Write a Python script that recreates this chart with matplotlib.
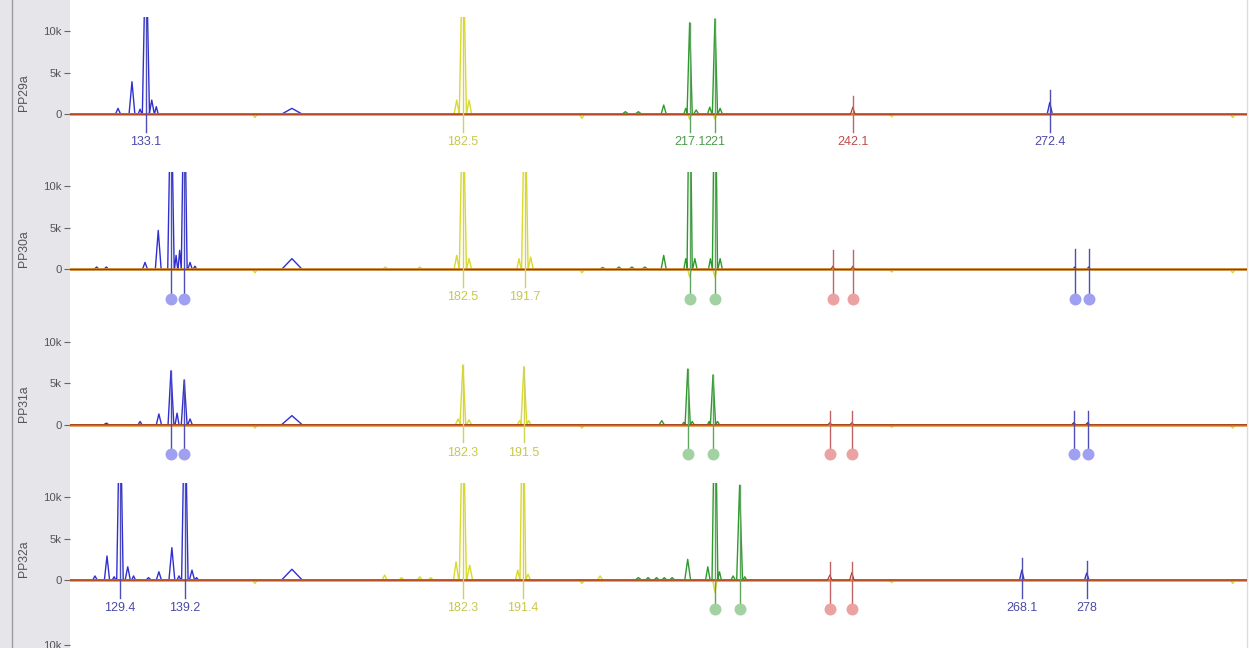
import matplotlib.pyplot as plt
from matplotlib.patches import Rectangle
from matplotlib.lines import Line2D

# ---------------------------------------
# axis ranges (size in bp, signal in RFU)
# ---------------------------------------
X_MIN, X_MAX = 121.4, 302.8
Y_LO, Y_HI = -6988, 11687
Y_TICKS = [0, 5000, 10000]
Y_TICK_LABELS = ['0', '5k', '10k']

samples = ['PP29a', 'PP30a', 'PP31a', 'PP32a']

# peaks per dye: (size bp, height RFU, half width bp)
blue_peaks = [
    [(128.8, 700, 0.4), (130.95, 3900, 0.45), (132.2, 600, 0.3), (133.1, 14000, 0.55),
     (134.0, 1700, 0.4), (134.7, 900, 0.3), (155.6, 700, 1.6), (272.4, 1400, 0.4)],
    [(125.5, 300, 0.4), (127.0, 300, 0.4), (132.96, 850, 0.4), (135.0, 4700, 0.45),
     (136.96, 14000, 0.5), (137.75, 1700, 0.25), (138.3, 2300, 0.25), (139.0, 14000, 0.45),
     (139.9, 850, 0.35), (140.66, 400, 0.3), (155.6, 1300, 1.6), (276.25, 300, 0.3),
     (278.4, 300, 0.3)],
    [(127.0, 200, 0.4), (132.2, 400, 0.3), (135.1, 1300, 0.4), (136.96, 6500, 0.45),
     (137.9, 1400, 0.3), (139.0, 5400, 0.45), (139.9, 700, 0.35), (155.6, 1100, 1.6),
     (276.1, 250, 0.3), (278.25, 250, 0.3)],
    [(125.25, 500, 0.35), (127.1, 2900, 0.4), (128.2, 400, 0.3), (129.1, 14000, 0.5),
     (130.3, 1600, 0.4), (131.2, 500, 0.3), (133.5, 300, 0.4), (135.1, 1000, 0.4),
     (137.1, 3900, 0.45), (138.2, 500, 0.3), (139.1, 14000, 0.5), (140.2, 1200, 0.4),
     (140.9, 300, 0.3), (155.6, 1300, 1.6), (268.1, 1200, 0.35), (278.1, 850, 0.35)],
]

yellow_peaks = [
    [(149.9, -400, 0.4), (181.0, 1700, 0.4), (181.95, 14000, 0.55), (182.9, 1700, 0.4),
     (200.3, -500, 0.4), (216.9, -600, 0.3), (220.8, -600, 0.3), (248.05, -300, 0.4),
     (300.6, -400, 0.4)],
    [(149.9, -400, 0.4), (170.0, 300, 0.5), (175.3, 300, 0.5), (181.0, 1700, 0.4),
     (181.95, 14000, 0.55), (182.9, 1300, 0.4), (190.6, 1300, 0.35), (191.5, 14000, 0.5),
     (192.4, 1500, 0.4), (200.3, -400, 0.4), (216.9, -900, 0.3), (220.8, -900, 0.3),
     (248.05, -300, 0.4), (300.6, -400, 0.4)],
    [(149.9, -400, 0.4), (181.2, 700, 0.4), (181.95, 7200, 0.45), (182.9, 600, 0.4),
     (190.7, 500, 0.35), (191.35, 7000, 0.45), (192.1, 500, 0.35), (200.3, -400, 0.4),
     (248.05, -300, 0.4), (300.6, -400, 0.4)],
    [(149.9, -400, 0.4), (169.9, 600, 0.4), (172.5, 300, 0.4), (175.3, 400, 0.4),
     (177.0, 300, 0.4), (180.9, 2200, 0.4), (181.95, 14000, 0.55), (183.0, 1800, 0.45),
     (190.4, 1200, 0.35), (191.2, 14000, 0.45), (192.0, 700, 0.35), (200.3, -400, 0.4),
     (203.1, 500, 0.4), (220.8, -1500, 0.35), (248.05, -300, 0.4), (300.6, -400, 0.4)],
]

green_peaks = [
    [(207.0, 300, 0.5), (209.0, 300, 0.5), (212.9, 1100, 0.4), (216.3, 700, 0.3),
     (216.9, 11000, 0.4), (217.9, 500, 0.4), (220.0, 850, 0.35), (220.8, 11450, 0.4),
     (221.6, 700, 0.35)],
    [(203.5, 250, 0.5), (206.0, 300, 0.5), (208.0, 300, 0.5), (210.0, 300, 0.5),
     (212.9, 1700, 0.4), (216.3, 1300, 0.3), (216.9, 14000, 0.4), (217.7, 1300, 0.35),
     (220.1, 1300, 0.3), (220.8, 14000, 0.4), (221.6, 1300, 0.35)],
    [(212.6, 500, 0.4), (216.0, 300, 0.25), (216.6, 6700, 0.4), (217.3, 400, 0.3),
     (219.9, 400, 0.25), (220.5, 6000, 0.4), (221.2, 400, 0.3)],
    [(209.0, 300, 0.5), (210.5, 300, 0.4), (211.8, 300, 0.4), (213.0, 300, 0.4),
     (214.2, 300, 0.4), (216.6, 2500, 0.45), (219.7, 1600, 0.35), (220.8, 14000, 0.45),
     (221.5, 1000, 0.3), (223.6, 500, 0.35), (224.6, 11400, 0.45), (225.4, 400, 0.3)],
]

red_peaks = [
    [(242.05, 850, 0.35)],
    [(238.96, 400, 0.3), (242.05, 400, 0.3)],
    [(238.5, 250, 0.3), (241.9, 250, 0.3)],
    [(238.5, 600, 0.35), (241.9, 900, 0.35)],
]

# called peaks: (size bp, bar top RFU, dye, label) -- label None means a dot
calls = [
    [(133.1, 14000, 'blue', '133.1'), (181.95, 14000, 'yellow', '182.5'),
     (216.9, 11000, 'green', '217.1'), (220.8, 11450, 'green', '221'),
     (242.05, 2200, 'red', '242.1'), (272.4, 2900, 'blue', '272.4')],
    [(136.96, 14000, 'blue', None), (139.0, 14000, 'blue', None),
     (181.95, 14000, 'yellow', '182.5'), (191.5, 14000, 'yellow', '191.7'),
     (216.9, 14000, 'green', None), (220.8, 14000, 'green', None),
     (238.96, 2300, 'red', None), (242.05, 2300, 'red', None),
     (276.25, 2500, 'blue', None), (278.4, 2500, 'blue', None)],
    [(136.96, 6500, 'blue', None), (139.0, 5400, 'blue', None),
     (181.95, 7200, 'yellow', '182.3'), (191.35, 7000, 'yellow', '191.5'),
     (216.6, 6700, 'green', None), (220.5, 6000, 'green', None),
     (238.5, 1700, 'red', None), (241.9, 1700, 'red', None),
     (276.1, 1700, 'blue', None), (278.25, 1700, 'blue', None)],
    [(129.1, 14000, 'blue', '129.4'), (139.1, 14000, 'blue', '139.2'),
     (181.95, 14000, 'yellow', '182.3'), (191.2, 14000, 'yellow', '191.4'),
     (220.8, 14000, 'green', None), (224.6, 11400, 'green', None),
     (238.5, 2200, 'red', None), (241.9, 2200, 'red', None),
     (268.1, 2650, 'blue', '268.1'), (278.1, 2300, 'blue', '278')],
]

TRACE_COL = {'blue': '#3030d2', 'yellow': '#d9d92e', 'green': '#2e9a2e', 'red': '#a8321e'}
BAR_COL = {'blue': '#4e4eb4', 'yellow': '#d2d25a', 'green': '#5fa55f', 'red': '#c26262'}
TEXT_COL = {'blue': '#4a4aa8', 'yellow': '#c8c84c', 'green': '#4c9c4c', 'red': '#c04a4a'}
DOT_COL = {'blue': '#a0a0f2', 'green': '#a2d2a2', 'red': '#eba2a2'}

BAR_BOTTOM = -2100
LABEL_Y = -3350
DOT_Y = -3500


def build_trace(peaks):
    xs, ys = [X_MIN], [0.0]
    for c, h, w in sorted(peaks):
        xs.append(c - w)
        ys.append(0.0)
        if h > Y_HI:
            # saturated peak: flat top above the view
            xs += [c - 0.2, c + 0.2]
            ys += [h, h]
        else:
            xs.append(c)
            ys.append(h)
        xs.append(c + w)
        ys.append(0.0)
    xs.append(X_MAX)
    ys.append(0.0)
    return xs, ys


W, H = 1249, 648
plt.rcParams['font.family'] = ['Liberation Sans', 'DejaVu Sans']
fig = plt.figure(figsize=(W / 100, H / 100), dpi=100)

# grey strip on the left
fig.patches.append(Rectangle((0, 0), 70 / W, 1, transform=fig.transFigure,
                             facecolor='#e6e6ea', edgecolor='none', zorder=-10))
fig.add_artist(Line2D([12 / W, 12 / W], [0, 1], color='#9c9c9c', lw=1.0, zorder=-5))
fig.add_artist(Line2D([1247 / W, 1247 / W], [0, 1], color='#dcdcdc', lw=1.0, zorder=-5))

PANEL_TOP = 17
PANEL_H = 155.3


def style_axes(ax):
    ax.set_xlim(X_MIN, X_MAX)
    ax.set_ylim(Y_LO, Y_HI)
    for s in ax.spines.values():
        s.set_visible(False)
    ax.set_xticks([])
    ax.set_yticks(Y_TICKS)
    ax.set_yticklabels(Y_TICK_LABELS)
    ax.tick_params(axis='y', direction='out', length=4, width=0.8, pad=2,
                   color='#666666', labelcolor='#555555', labelsize=8.2)
    ax.patch.set_alpha(0)


for i, name in enumerate(samples):
    top = PANEL_TOP + i * PANEL_H
    ax = fig.add_axes([70 / W, 1 - (top + PANEL_H) / H, 1177 / W, PANEL_H / H])
    style_axes(ax)

    for dye, peaks in [('blue', blue_peaks[i]), ('yellow', yellow_peaks[i]),
                       ('green', green_peaks[i])]:
        xs, ys = build_trace(peaks)
        ax.plot(xs, ys, color=TRACE_COL[dye], lw=1.0, zorder=2)

    ax.axhline(0, color='#dc8a30', lw=1.8, zorder=2.5)
    xs, ys = build_trace(red_peaks[i])
    ax.plot(xs, ys, color=TRACE_COL['red'], lw=0.8, zorder=3)

    for x, bar_top, dye, label in calls[i]:
        if label is None:
            ax.plot([x, x], [bar_top, DOT_Y], color=BAR_COL[dye], lw=1.0, zorder=4)
            ax.plot(x, DOT_Y, 'o', ms=8.6, color=DOT_COL[dye], mec='none', zorder=5)
        else:
            ax.plot([x, x], [bar_top, BAR_BOTTOM], color=BAR_COL[dye], lw=1.0, zorder=4)
            ax.text(x, LABEL_Y, label, color=TEXT_COL[dye], fontsize=9,
                    ha='center', va='center', zorder=5)

    ax.set_ylabel(name, fontsize=8.8, color='#555555')
    ax.yaxis.set_label_coords(-0.034, 0.51)

# next panel, only the top of its 10k tick label shows at the bottom edge
ax5 = fig.add_axes([70 / W, 1 - (631 + PANEL_H) / H, 1177 / W, PANEL_H / H])
style_axes(ax5)

plt.savefig('out.png', dpi=100)
